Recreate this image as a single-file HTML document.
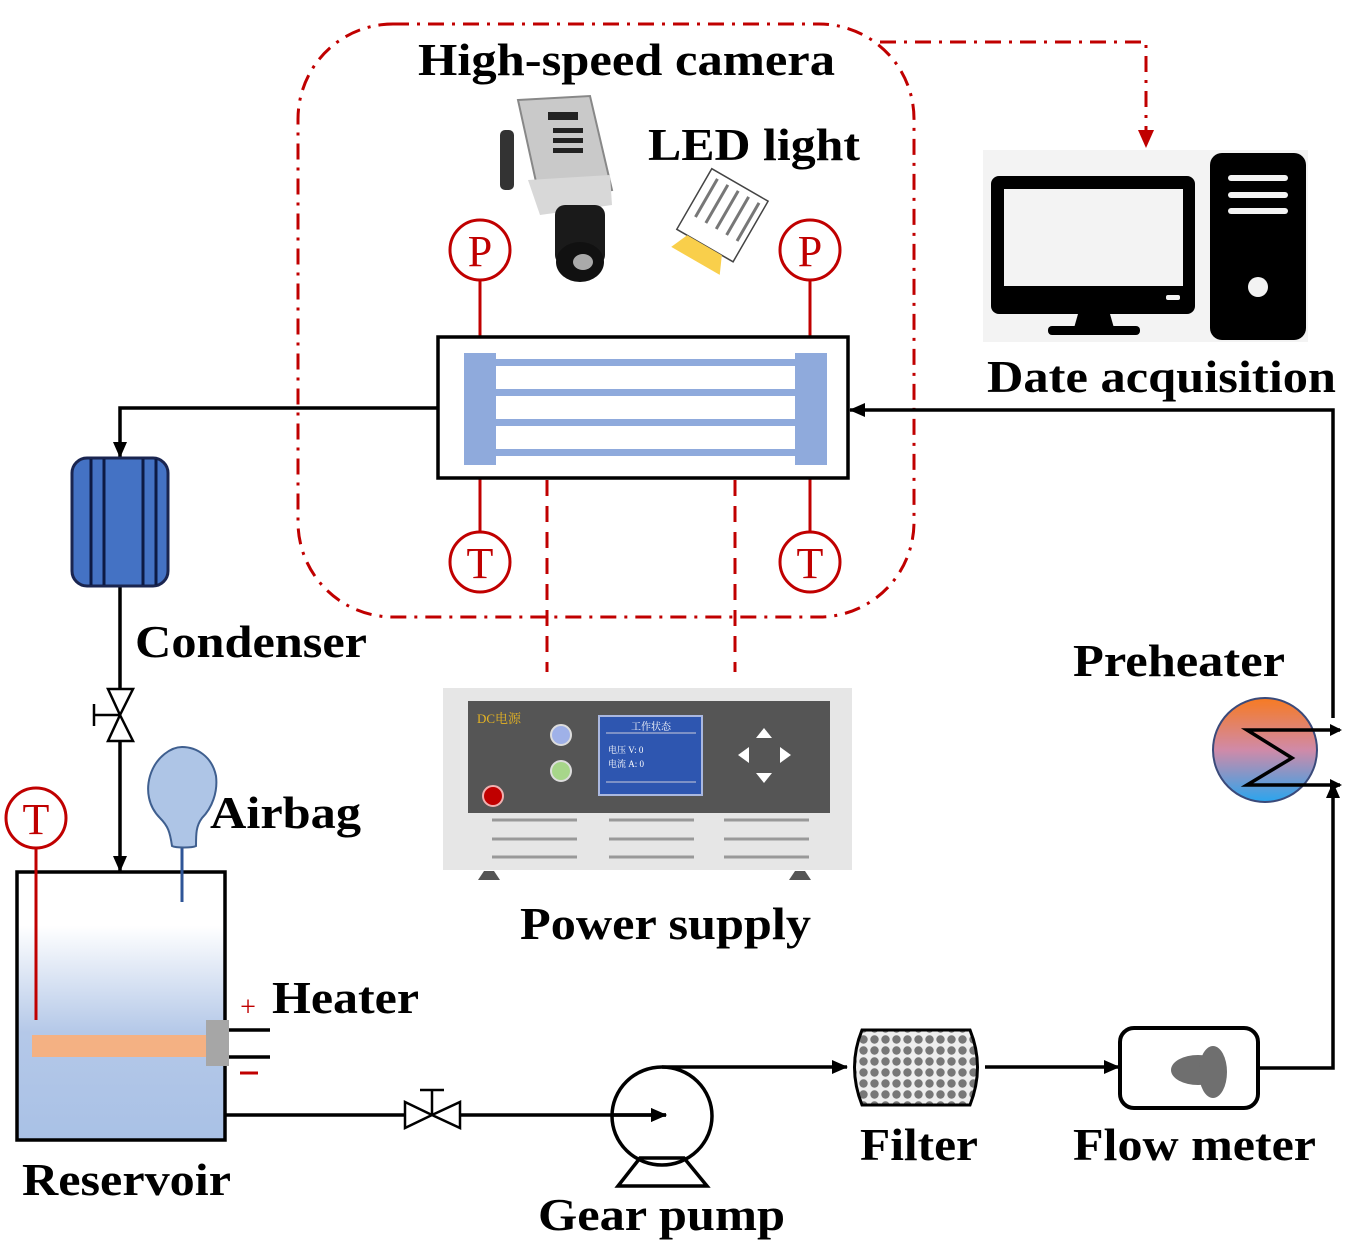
<!DOCTYPE html>
<html><head><meta charset="utf-8"><style>
html,body{margin:0;padding:0;background:#fff}
svg{display:block}
text{font-family:"Liberation Serif",serif;font-weight:bold;fill:#000}
</style></head><body>
<svg width="1354" height="1248" viewBox="0 0 1354 1248" xmlns="http://www.w3.org/2000/svg">
<defs>
<marker id="ab" markerWidth="10" markerHeight="10" refX="9" refY="5" orient="auto" markerUnits="userSpaceOnUse"><path d="M0,0 L10,5 L0,10 z" fill="#000"/></marker>
<marker id="ab2" markerWidth="16" markerHeight="14" refX="15" refY="7" orient="auto" markerUnits="userSpaceOnUse"><path d="M0,0 L16,7 L0,14 z" fill="#000"/></marker>
<marker id="ar" markerWidth="18" markerHeight="16" refX="16" refY="8" orient="auto" markerUnits="userSpaceOnUse"><path d="M0,0 L18,8 L0,16 z" fill="#c00000"/></marker>
<linearGradient id="res" x1="0" y1="0" x2="0" y2="1"><stop offset="0.2" stop-color="#fff"/><stop offset="0.6" stop-color="#b4c8e8"/><stop offset="1" stop-color="#a9c1e6"/></linearGradient>
<linearGradient id="ph" x1="0" y1="0" x2="0" y2="1"><stop offset="0" stop-color="#f77a22"/><stop offset="0.5" stop-color="#d08aa8"/><stop offset="1" stop-color="#2aa5ee"/></linearGradient>
<pattern id="fp" width="11" height="11" patternUnits="userSpaceOnUse"><rect width="11" height="11" fill="#eee"/><circle cx="5.5" cy="5.5" r="4.2" fill="#777"/></pattern>
</defs>

<!-- dash-dot enclosure -->
<rect x="298" y="24" width="616" height="593" rx="95" fill="none" stroke="#c00000" stroke-width="3" stroke-dasharray="16 8 3 8"/>
<polyline points="880,42 1146,42 1146,146" fill="none" stroke="#c00000" stroke-width="3" stroke-dasharray="16 8 3 8" marker-end="url(#ar)"/>

<!-- computer -->
<rect x="983" y="150" width="325" height="192" fill="#f3f3f3"/>
<rect x="991" y="176" width="204" height="138" rx="8" fill="#000"/>
<rect x="1004" y="189" width="179" height="97" fill="#f3f3f3"/>
<rect x="1166" y="295" width="14" height="5" rx="2" fill="#f3f3f3"/>
<path d="M1078,314 L1110,314 L1114,328 L1074,328 z" fill="#000"/>
<rect x="1048" y="326" width="92" height="9" rx="4" fill="#000"/>
<rect x="1210" y="153" width="96" height="187" rx="12" fill="#000"/>
<rect x="1228" y="175" width="60" height="6" rx="3" fill="#f3f3f3"/>
<rect x="1228" y="192" width="60" height="6" rx="3" fill="#f3f3f3"/>
<rect x="1228" y="208" width="60" height="6" rx="3" fill="#f3f3f3"/>
<circle cx="1258" cy="287" r="10" fill="#f3f3f3"/>

<!-- camera -->
<g>
<rect x="500" y="130" width="14" height="60" rx="5" fill="#333"/>
<path d="M518,100 L590,96 L612,190 L540,200 z" fill="#c9c9c9" stroke="#888" stroke-width="2"/>
<rect x="548" y="112" width="30" height="8" fill="#222"/>
<rect x="553" y="128" width="30" height="5" fill="#222"/>
<rect x="553" y="138" width="30" height="5" fill="#222"/>
<rect x="553" y="148" width="30" height="5" fill="#222"/>
<path d="M528,180 L610,175 L612,205 L540,215 z" fill="#d8d8d8"/>
<rect x="555" y="205" width="50" height="60" rx="10" fill="#1a1a1a"/>
<ellipse cx="580" cy="262" rx="24" ry="20" fill="#111"/>
<ellipse cx="583" cy="262" rx="10" ry="8" fill="#aaa"/>
</g>
<!-- LED -->
<g transform="rotate(30 722 215)">
<rect x="690" y="180" width="65" height="70" fill="#fff" stroke="#444" stroke-width="1.5"/>
<line x1="700" y1="186" x2="700" y2="230" stroke="#777" stroke-width="3"/>
<line x1="712" y1="186" x2="712" y2="230" stroke="#777" stroke-width="3"/>
<line x1="724" y1="186" x2="724" y2="230" stroke="#777" stroke-width="3"/>
<line x1="736" y1="186" x2="736" y2="230" stroke="#777" stroke-width="3"/>
<line x1="748" y1="186" x2="748" y2="230" stroke="#777" stroke-width="3"/>
<path d="M702,250 L742,250 L750,268 L694,268 z" fill="#f9cf4b"/>
</g>

<!-- P sensors -->
<g stroke="#c00000" stroke-width="3" fill="#fff">
<line x1="480" y1="280" x2="480" y2="355"/><line x1="810" y1="280" x2="810" y2="355"/>
<line x1="480" y1="463" x2="480" y2="532"/><line x1="810" y1="463" x2="810" y2="532"/>
<circle cx="480" cy="250" r="30"/><circle cx="810" cy="250" r="30"/>
<circle cx="480" cy="562" r="30"/><circle cx="810" cy="562" r="30"/>
<line x1="547" y1="480" x2="547" y2="672" stroke-dasharray="16 10"/>
<line x1="735" y1="480" x2="735" y2="672" stroke-dasharray="16 10"/>
</g>
<g font-size="44" style="font-family:'Liberation Serif',serif;font-weight:normal">
<text x="480" y="266" text-anchor="middle" style="font-weight:normal;fill:#c00000" font-size="44">P</text>
<text x="810" y="266" text-anchor="middle" style="font-weight:normal;fill:#c00000" font-size="44">P</text>
<text x="480" y="578" text-anchor="middle" style="font-weight:normal;fill:#c00000" font-size="44">T</text>
<text x="810" y="578" text-anchor="middle" style="font-weight:normal;fill:#c00000" font-size="44">T</text>
<text x="36" y="834" text-anchor="middle" style="font-weight:normal;fill:#c00000" font-size="44">T</text>
</g>

<!-- test section -->
<rect x="438" y="337" width="410" height="141" fill="#fff" stroke="#000" stroke-width="3.5"/>
<g fill="#8faadc">
<rect x="496" y="359" width="300" height="7"/>
<rect x="496" y="389" width="300" height="7"/>
<rect x="496" y="419" width="300" height="7"/>
<rect x="496" y="449" width="300" height="7"/>
<rect x="464" y="353" width="32" height="112"/>
<rect x="795" y="353" width="32" height="112"/>
</g>

<!-- loop lines -->
<g fill="none" stroke="#000" stroke-width="3.5">
<polyline points="438,408 120,408 120,457" marker-end="url(#ab2)"/>
<line x1="120" y1="586" x2="120" y2="690"/>
<line x1="120" y1="742" x2="120" y2="871" marker-end="url(#ab2)"/>
<polyline points="1333,718 1333,410 850,410" marker-end="url(#ab2)"/>
<line x1="225" y1="1115" x2="405" y2="1115"/>
<line x1="460" y1="1115" x2="666" y2="1115" marker-end="url(#ab2)"/>
<polyline points="662,1067 847,1067" marker-end="url(#ab2)"/>
<line x1="985" y1="1067" x2="1119" y2="1067" marker-end="url(#ab2)"/>
<polyline points="1258,1068 1333,1068 1333,783" marker-end="url(#ab2)"/>
</g>

<!-- condenser -->
<rect x="72" y="458" width="96" height="128" rx="15" fill="#4472c4" stroke="#1a2550" stroke-width="3"/>
<g stroke="#0d1a44" stroke-width="3"><line x1="91" y1="459" x2="91" y2="585"/><line x1="104" y1="459" x2="104" y2="585"/><line x1="143" y1="459" x2="143" y2="585"/><line x1="156" y1="459" x2="156" y2="585"/></g>

<!-- vertical valve -->
<g fill="#fff" stroke="#000" stroke-width="2.5">
<path d="M108,689 L133,689 L120,715 z"/><path d="M108,741 L133,741 L120,715 z"/>
<line x1="94" y1="715" x2="120" y2="715"/><line x1="94" y1="704" x2="94" y2="726"/>
</g>

<!-- reservoir -->
<rect x="17" y="872" width="208" height="268" fill="url(#res)" stroke="#000" stroke-width="3.5"/>
<line x1="36" y1="848" x2="36" y2="1020" stroke="#c00000" stroke-width="3"/>
<circle cx="36" cy="818" r="30" fill="none" stroke="#c00000" stroke-width="3"/>
<rect x="32" y="1035" width="176" height="22" fill="#f4b183"/>
<rect x="206" y="1020" width="23" height="46" fill="#a6a6a6"/>
<line x1="229" y1="1030" x2="270" y2="1030" stroke="#000" stroke-width="3.5"/>
<line x1="229" y1="1057" x2="270" y2="1057" stroke="#000" stroke-width="3.5"/>
<text x="248" y="1016" text-anchor="middle" font-size="28" style="font-weight:normal;fill:#c00000">+</text>
<line x1="240" y1="1073" x2="258" y2="1073" stroke="#c00000" stroke-width="3"/>
<!-- airbag -->
<line x1="182" y1="840" x2="182" y2="902" stroke="#2f5597" stroke-width="3"/>
<path d="M172,846 C170,832 168,826 160,818 C148,806 146,790 150,776 C156,756 172,747 182,747 C196,747 212,756 216,776 C218,792 212,808 202,818 C196,826 196,834 196,846 C192,848 176,848 172,846 z" fill="#aec5e6" stroke="#3f5f8f" stroke-width="2"/>

<!-- horizontal valve -->
<g fill="#fff" stroke="#000" stroke-width="2.5">
<path d="M405,1102 L405,1128 L432,1115 z"/><path d="M460,1102 L460,1128 L432,1115 z"/>
<line x1="432" y1="1115" x2="432" y2="1090"/><line x1="420" y1="1090" x2="444" y2="1090"/>
</g>

<!-- pump -->
<path d="M640,1158 L684,1158 L707,1186 L618,1186 z" fill="#fff" stroke="#000" stroke-width="3.5"/>
<ellipse cx="662" cy="1116" rx="50" ry="49" fill="none" stroke="#000" stroke-width="3.5"/>
<line x1="612" y1="1115" x2="666" y2="1115" stroke="#000" stroke-width="3.5" marker-end="url(#ab2)"/>

<!-- filter -->
<path d="M862,1030 L970,1030 Q985,1067 970,1105 L862,1105 Q847,1067 862,1030 z" fill="url(#fp)" stroke="#000" stroke-width="3"/>
<!-- flow meter -->
<rect x="1120" y="1028" width="138" height="80" rx="14" fill="#fff" stroke="#000" stroke-width="4"/>
<ellipse cx="1198" cy="1070" rx="27" ry="15" fill="#6f6f6f"/>
<ellipse cx="1213" cy="1072" rx="14" ry="26" fill="#6f6f6f"/>

<!-- preheater -->
<circle cx="1265" cy="750" r="52" fill="url(#ph)" stroke="#3a4a7a" stroke-width="2"/>
<polyline points="1340,730 1247,730 1292,758 1247,785 1340,785" fill="none" stroke="#000" stroke-width="3.5"/>
<polygon points="1342,730 1330,724 1330,736" fill="#000"/>
<polygon points="1342,785 1330,779 1330,791" fill="#000"/>

<!-- power supply -->
<rect x="443" y="688" width="409" height="182" fill="#e6e6e6"/>
<rect x="468" y="701" width="362" height="112" fill="#555"/>
<text x="477" y="723" font-size="13" style="fill:#e6b422;font-weight:normal;font-family:'Liberation Serif','Noto Serif CJK SC',serif">DC电源</text>
<circle cx="561" cy="735" r="10" fill="#9fb1e8" stroke="#ddd" stroke-width="2"/>
<circle cx="561" cy="771" r="10" fill="#a7d68a" stroke="#ddd" stroke-width="2"/>
<circle cx="493" cy="796" r="10" fill="#c00000" stroke="#f0b0b0" stroke-width="2"/>
<rect x="599" y="716" width="103" height="79" fill="#2e56b0" stroke="#aab8e0" stroke-width="2"/>
<line x1="606" y1="733" x2="696" y2="733" stroke="#ccd" stroke-width="1"/>
<line x1="606" y1="782" x2="696" y2="782" stroke="#ccd" stroke-width="1"/>
<text x="651" y="730" text-anchor="middle" font-size="10" style="fill:#fff;font-weight:normal;font-family:'Noto Serif CJK SC',serif">工作状态</text>
<text x="608" y="753" font-size="9" style="fill:#fff;font-weight:normal;font-family:'Liberation Serif','Noto Serif CJK SC',serif">电压 V:  0</text>
<text x="608" y="767" font-size="9" style="fill:#fff;font-weight:normal;font-family:'Liberation Serif','Noto Serif CJK SC',serif">电流 A:  0</text>
<g fill="#fff"><path d="M764,728 L756,738 L772,738 z"/><path d="M764,783 L756,773 L772,773 z"/><path d="M738,755 L749,747 L749,763 z"/><path d="M791,755 L780,747 L780,763 z"/></g>
<g stroke="#999" stroke-width="3">
<line x1="492" y1="820" x2="577" y2="820"/><line x1="609" y1="820" x2="694" y2="820"/><line x1="724" y1="820" x2="809" y2="820"/>
<line x1="492" y1="839" x2="577" y2="839"/><line x1="609" y1="839" x2="694" y2="839"/><line x1="724" y1="839" x2="809" y2="839"/>
<line x1="492" y1="857" x2="577" y2="857"/><line x1="609" y1="857" x2="694" y2="857"/><line x1="724" y1="857" x2="809" y2="857"/>
</g>
<path d="M478,880 L484,871 L494,871 L500,880 z" fill="#555"/>
<path d="M789,880 L795,871 L805,871 L811,880 z" fill="#555"/>

<!-- labels -->
<g font-size="46">
<text x="418" y="75" textLength="417" lengthAdjust="spacingAndGlyphs">High-speed camera</text>
<text x="648" y="160" textLength="212" lengthAdjust="spacingAndGlyphs">LED light</text>
<text x="987" y="392" textLength="349" lengthAdjust="spacingAndGlyphs">Date acquisition</text>
<text x="135" y="657" textLength="232" lengthAdjust="spacingAndGlyphs">Condenser</text>
<text x="1073" y="676" textLength="212" lengthAdjust="spacingAndGlyphs">Preheater</text>
<text x="210" y="828" textLength="151" lengthAdjust="spacingAndGlyphs">Airbag</text>
<text x="520" y="939" textLength="291" lengthAdjust="spacingAndGlyphs">Power supply</text>
<text x="272" y="1013" textLength="147" lengthAdjust="spacingAndGlyphs">Heater</text>
<text x="22" y="1195" textLength="209" lengthAdjust="spacingAndGlyphs">Reservoir</text>
<text x="860" y="1160" textLength="118" lengthAdjust="spacingAndGlyphs">Filter</text>
<text x="1073" y="1160" textLength="243" lengthAdjust="spacingAndGlyphs">Flow meter</text>
<text x="538" y="1230" textLength="247" lengthAdjust="spacingAndGlyphs">Gear pump</text>
</g>
</svg>
</body></html>
